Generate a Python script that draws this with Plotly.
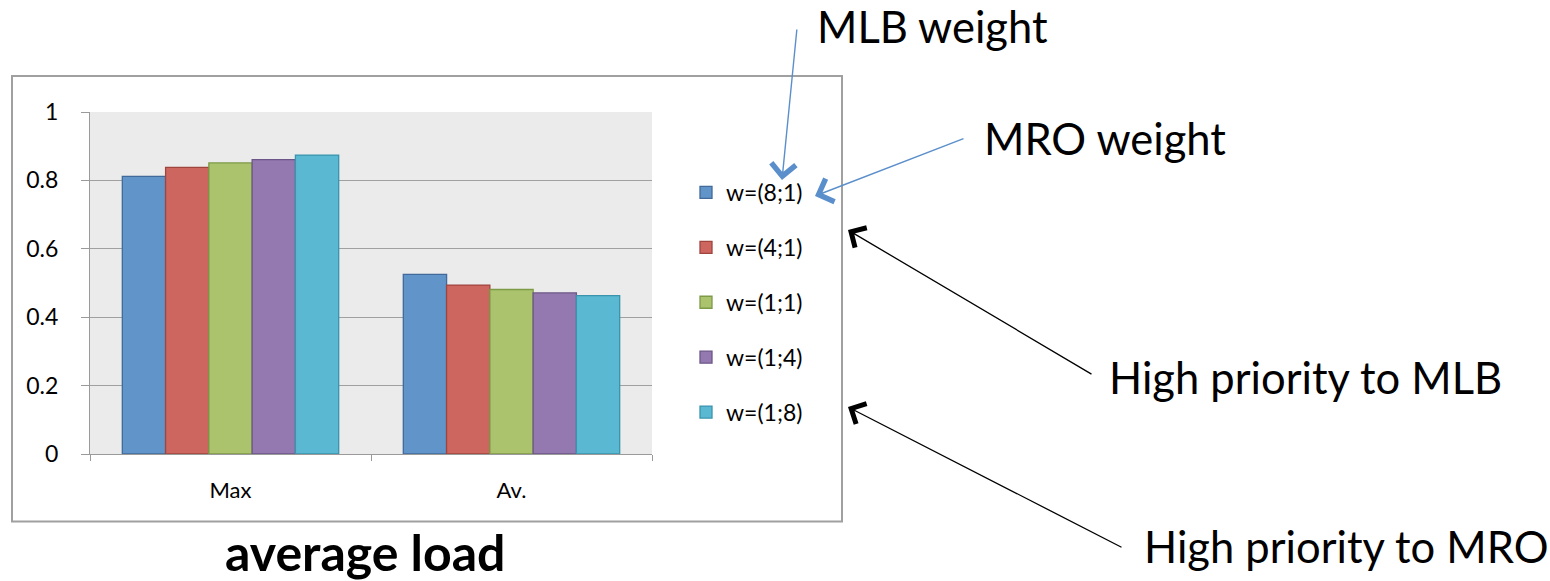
import plotly.graph_objects as go

categories = ["Max", "Av."]
series_names = ["w=(8;1)", "w=(4;1)", "w=(1;1)", "w=(1;4)", "w=(1;8)"]
values_8_1 = [0.812, 0.525]
values_4_1 = [0.838, 0.494]
values_1_1 = [0.851, 0.481]
values_1_4 = [0.861, 0.471]
values_1_8 = [0.874, 0.463]
series_values = [values_8_1, values_4_1, values_1_1, values_1_4, values_1_8]
y_tick_vals = [0, 0.2, 0.4, 0.6, 0.8, 1]
y_tick_text = ["0", "0.2", "0.4", "0.6", "0.8", "1"]

fills = ["#6195C9", "#CD665F", "#AAC36C", "#9478B0", "#5BB8D2"]
edges = ["#41699A", "#A0443E", "#7D9A47", "#6C5688", "#3A94AD"]

W, H = 1550, 581
PL, PR, PT, PB = 90, 652, 112, 454
FONT = "Lato"


def px(xp, yp):
    return (xp - PL) / (PR - PL), (PB - yp) / (PB - PT)


fig = go.Figure()
for i, (name, vals) in enumerate(zip(series_names, series_values)):
    fig.add_trace(go.Bar(
        x=categories, y=vals, name=name, legendgroup=name,
        marker=dict(color=fills[i], line=dict(color=edges[i], width=1.3)),
    ))

lx, ly = px(686, 171)
fig.update_layout(
    width=W, height=H,
    margin=dict(l=PL, r=W - PR, t=PT, b=H - PB, pad=0),
    paper_bgcolor="white", plot_bgcolor="#EBEBEB",
    barmode="group", bargap=0.23, bargroupgap=0,
    font=dict(family=FONT, color="black", size=22),
    showlegend=True,
    legend=dict(x=lx, y=ly, xanchor="left", yanchor="top",
                font=dict(size=23, family=FONT), tracegroupgap=22,
                bgcolor="rgba(0,0,0,0)", itemclick=False),
    xaxis=dict(showline=True, linecolor="#9A9A9A", linewidth=1.3,
               ticks="outside", tickson="boundaries", ticklen=6,
               tickcolor="#9A9A9A", tickfont=dict(size=22, family=FONT),
               ticklabelstandoff=16,
               showgrid=False, fixedrange=True),
    yaxis=dict(range=[0, 1], tickvals=y_tick_vals, ticktext=y_tick_text,
               showline=True, linecolor="#9A9A9A", linewidth=1.3,
               ticks="outside", ticklen=8, tickcolor="#9A9A9A",
               ticklabelstandoff=18,
               showgrid=True, gridcolor="#A0A0A0", gridwidth=1.3,
               zeroline=False, tickfont=dict(size=23, family=FONT),
               fixedrange=True),
)

# chart border box
x0, y0 = px(12, 521.5)
x1, y1 = px(842, 76)
fig.add_shape(type="rect", xref="paper", yref="paper", x0=x0, y0=y0, x1=x1, y1=y1,
              line=dict(color="#A0A0A0", width=2), fillcolor="rgba(0,0,0,0)", layer="below")

# text annotations
def txt(text, xp, yp, size, anchor="left", bold=False):
    x, y = px(xp, yp)
    fig.add_annotation(xref="paper", yref="paper", x=x, y=y, text=f"<b>{text}</b>" if bold else text,
                       showarrow=False, xanchor=anchor, yanchor="middle",
                       font=dict(size=size, family=FONT, color="black"))

txt("MLB weight", 815, 26, 43.5)
txt("MRO weight", 982, 138, 43.5)
txt("High priority to MLB", 1107, 377, 43.5)
txt("High priority to MRO", 1142, 546, 43.5)
txt("average load", 365, 552, 50, anchor="center", bold=True)

# arrows
def arrow(head, tail, color, width, size):
    x, y = px(*head)
    fig.add_annotation(xref="paper", yref="paper", x=x, y=y, text="",
                       showarrow=True, ax=tail[0] - head[0], ay=tail[1] - head[1],
                       axref="pixel", ayref="pixel",
                       arrowhead=4, arrowsize=size, arrowwidth=width, arrowcolor=color,
                       standoff=0)

arrow((782, 180), (797, 28), "#5B8FCB", 1.4, 3.4)
arrow((815, 196), (965, 138), "#5B8FCB", 1.4, 3.4)
arrow((848, 230), (1093, 375), "black", 1.3, 3.4)
arrow((848, 407), (1123, 548), "black", 1.3, 3.4)

fig.write_html("out.html", config={"displayModeBar": False})
